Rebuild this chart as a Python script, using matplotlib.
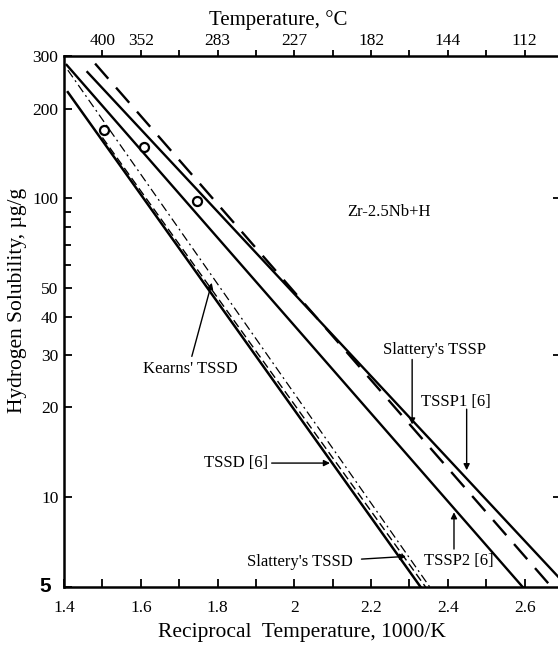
import numpy as np
import matplotlib
matplotlib.use("Agg")
import matplotlib.pyplot as plt

plt.rcParams["font.family"] = ["Liberation Serif", "DejaVu Serif"]

# Arrhenius lines, (1000/K, ug/g) end points
tssp1_x = [1.461, 2.700]
tssp1_y = [265, 5.2]
slat_tssp_x = [1.481, 2.670]
slat_tssp_y = [283, 5.0]
tssp2_x = [1.407, 2.595]
tssp2_y = [280, 5.0]
tssd_x = [1.410, 2.329]
tssd_y = [227, 5.0]
kearns_x = [1.410, 2.353]
kearns_y = [269, 5.0]
slat_tssd_x = [1.500, 2.342]
slat_tssd_y = [160, 5.0]

# measured points
pts_x = [1.504, 1.608, 1.746]
pts_y = [170, 149, 98]

xticks = [1.4, 1.5, 1.6, 1.7, 1.8, 1.9, 2.0, 2.1, 2.2, 2.3, 2.4, 2.5, 2.6]
xlabels = ["1.4", "", "1.6", "", "1.8", "", "2", "", "2.2", "", "2.4", "", "2.6"]
top_ticks = [1.5, 1.6, 1.7, 1.8, 1.9, 2.0, 2.1, 2.2, 2.3, 2.4, 2.5, 2.6]
top_labels = ["400", "352", "", "283", "", "227", "", "182", "", "144", "", "112"]
yticks = [5, 10, 20, 30, 40, 50, 100, 200, 300]
ylabels = ["", "10", "20", "30", "40", "50", "100", "200", "300"]
yminor = [60, 70, 80, 90]
right_ticks = [10, 30, 100]

fig = plt.figure(figsize=(5.58, 6.45), dpi=100)
ax = fig.add_axes([64 / 558, 58 / 645, 499 / 558, 531 / 645])

ax.plot(tssp1_x, tssp1_y, color="black", lw=1.7)
ax.plot(slat_tssp_x, slat_tssp_y, color="black", lw=1.7, linestyle=(0, (8.5, 5)))
ax.plot(tssp2_x, tssp2_y, color="black", lw=1.7)
ax.plot(tssd_x, tssd_y, color="black", lw=1.8)
ax.plot(kearns_x, kearns_y, color="black", lw=0.9, linestyle=(0, (7, 3, 1.5, 3)))
ax.plot(slat_tssd_x, slat_tssd_y, color="black", lw=1.0, linestyle=(0, (6, 3)))
ax.plot(pts_x, pts_y, "o", ms=6.5, mfc="white", mec="black", mew=1.6)

ax.set_yscale("log")
ax.set_xlim(1.4, 2.7)
ax.set_ylim(5, 300)
ax.set_xticks(xticks)
ax.set_xticklabels(xlabels)
ax.set_yticks(yticks)
ax.set_yticklabels(ylabels)
ax.set_yticks(yminor, minor=True)
ax.yaxis.set_minor_formatter(plt.NullFormatter())
ax.tick_params(axis="both", which="both", direction="in", width=1.3, labelsize=12.5)
ax.tick_params(axis="both", which="major", length=6)
ax.tick_params(axis="x", pad=9)
ax.tick_params(axis="y", which="minor", length=5)
ax.tick_params(axis="y", pad=4)
# the bottom "5" is set in a bold sans face in the original
ax.text(-0.038, 0.0, "5", transform=ax.transAxes, fontsize=15, fontweight="bold",
        family="Liberation Sans", ha="center", va="center")
for s in ["left", "bottom", "top"]:
    ax.spines[s].set_linewidth(1.8)
ax.spines["right"].set_visible(False)

top = ax.twiny()
top.set_xlim(ax.get_xlim())
top.set_xticks(top_ticks)
top.set_xticklabels(top_labels)
top.tick_params(axis="x", direction="out", length=4, width=1.3, labelsize=12.5, pad=1)
for s in top.spines.values():
    s.set_visible(False)

rt = ax.twinx()
rt.set_yscale("log")
rt.set_ylim(ax.get_ylim())
rt.set_yticks(right_ticks)
rt.yaxis.set_minor_locator(plt.NullLocator())
rt.set_yticklabels([])
rt.tick_params(axis="y", direction="in", length=7, width=1.3)
for s in rt.spines.values():
    s.set_visible(False)

fig.text(278 / 558, 1 - 20 / 645, "Temperature, \u00b0C", fontsize=15, ha="center", va="center")
fig.text(302 / 558, 1 - 632 / 645, "Reciprocal  Temperature, 1000/K", fontsize=15.5,
         ha="center", va="center")
fig.text(18 / 558, 1 - 300 / 645, "Hydrogen Solubility, \u00b5g/g", fontsize=15.5,
         ha="center", va="center", rotation=90)

ax.text(2.246, 90, "Zr-2.5Nb+H", fontsize=12, ha="center", va="center")

arrow = dict(arrowstyle="-|>", color="black", lw=1.0, mutation_scale=9,
             shrinkA=0, shrinkB=0)
ax.text(2.366, 31.0, "Slattery's TSSP", fontsize=12, ha="center", va="center")
ax.annotate("", xy=(2.307, 17.5), xytext=(2.307, 28.9), arrowprops=arrow)
ax.text(2.421, 20.9, "TSSP1 [6]", fontsize=12, ha="center", va="center")
ax.annotate("", xy=(2.449, 12.3), xytext=(2.449, 19.7), arrowprops=arrow)
ax.text(1.728, 26.8, "Kearns' TSSD", fontsize=12, ha="center", va="center")
ax.annotate("", xy=(1.785, 52.2), xytext=(1.733, 29.6), arrowprops=arrow)
ax.text(1.848, 13.0, "TSSD [6]", fontsize=12, ha="center", va="center")
ax.annotate("", xy=(2.093, 13.0), xytext=(1.941, 13.0), arrowprops=arrow)
ax.text(2.015, 6.06, "Slattery's TSSD", fontsize=12, ha="center", va="center")
ax.annotate("", xy=(2.291, 6.33), xytext=(2.175, 6.2), arrowprops=arrow)
ax.text(2.429, 6.1, "TSSP2 [6]", fontsize=12, ha="center", va="center")
ax.annotate("", xy=(2.416, 8.9), xytext=(2.416, 6.7), arrowprops=arrow)

fig.savefig("out.png", dpi=100)
